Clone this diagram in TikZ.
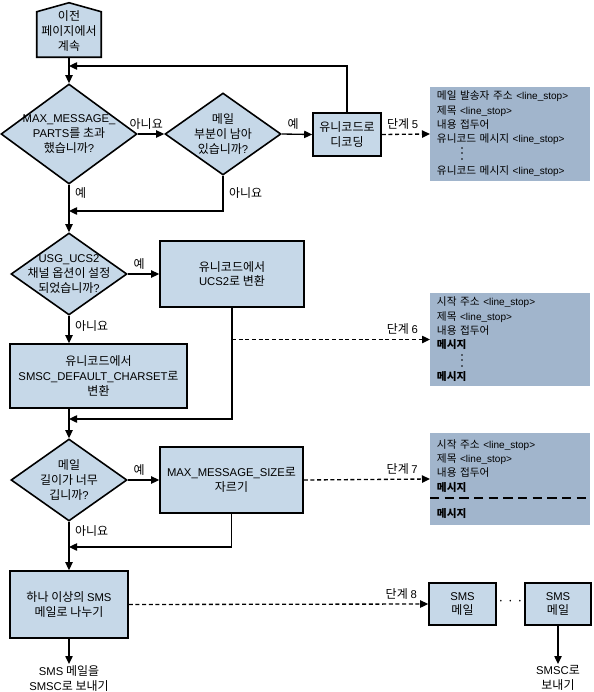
\documentclass[tikz,border=0pt]{standalone}
\usepackage{fontspec}
\setmainfont{Noto Sans CJK KR}
\newfontfamily\enfont{Liberation Sans}[Scale=0.94]
\newcommand\en[1]{{\enfont #1}}
\usetikzlibrary{shapes.geometric,arrows.meta,calc}

\definecolor{boxblue}{RGB}{198,216,232}
\definecolor{noteblue}{RGB}{161,181,204}

\begin{document}
\begin{tikzpicture}[x=0.75pt,y=0.75pt,yscale=-1,xscale=1,
  font=\fontsize{9}{11}\selectfont,
  procbox/.style={draw, line width=1.2pt, fill=boxblue, align=center, inner sep=1pt},
  decision/.style={diamond, draw, line width=1.2pt, fill=boxblue, inner sep=0pt},
  dtext/.style={align=center, inner sep=0.75pt},
  notebox/.style={fill=noteblue, align=left, anchor=west, inner xsep=5pt, text width=110pt, minimum height=69pt, font=\fontsize{8}{10.8}\selectfont},
  flow/.style={line width=1pt, -{Triangle[length=6pt,width=5.5pt]}},
  stepline/.style={flow, dash pattern=on 3pt off 2pt},
  sepline/.style={line width=1.5pt, dash pattern=on 7pt off 4pt},
  lbl/.style={inner sep=1pt}
]
\useasboundingbox (0,0) rectangle (593,692);

%Shape: start (house)
\node[minimum width=48pt, minimum height=40.5pt, inner sep=0pt] (start) at (69,30) {};
\draw[line width=1.2pt, fill=boxblue] (start.south west) -- ($(start.north west)+(0,9)$) -- (start.north) -- ($(start.north east)+(0,9)$) -- (start.south east) -- cycle;
\node[dtext] (starttext) at ($(start)+(0,1)$) {이전\\페이지에서\\계속};

%Shape: decisions
\node[decision, minimum width=102pt, minimum height=75pt] (d1) at (69,134) {};
\node[dtext] (d1t) at (d1) {\en{MAX\_MESSAGE\_}\\\en{PARTS}를 초과\\했습니까\en{?}};
\node[decision, minimum width=87pt, minimum height=61.5pt] (d2) at (223,134) {};
\node[dtext] (d2t) at (d2) {메일\\부분이 남아\\있습니까\en{?}};
\node[decision, minimum width=87pt, minimum height=61.5pt] (d3) at (69,274) {};
\node[dtext] (d3t) at (d3) {\en{USG\_UCS2}\\채널 옵션이 설정\\되었습니까\en{?}};
\node[decision, minimum width=87pt, minimum height=61.5pt] (d4) at (69,480) {};
\node[dtext] (d4t) at (d4) {메일\\길이가 너무\\깁니까\en{?}};

%Shape: process boxes
\node[procbox, minimum width=51pt, minimum height=32.25pt] (decode) at (347,134.5) {유니코드로\\디코딩};
\node[procbox, minimum width=108pt, minimum height=49.5pt] (ucs2) at (232,274) {유니코드에서\\\en{UCS2}로 변환};
\node[procbox, minimum width=132.75pt, minimum height=48pt] (charset) at (98.5,376) {유니코드에서\\\en{SMSC\_DEFAULT\_CHARSET}로\\변환};
\node[procbox, minimum width=107.25pt, minimum height=49.5pt] (trunc) at (231.5,480) {\en{MAX\_MESSAGE\_SIZE}로\\자르기};
\node[procbox, minimum width=88.5pt, minimum height=50.25pt] (split) at (69,604.5) {하나 이상의 \en{SMS}\\메일로 나누기};
\node[procbox, minimum width=50.25pt, minimum height=31.5pt] (sms1) at (462.5,604) {\en{SMS}\\메일};
\node[procbox, minimum width=49.5pt, minimum height=31.5pt] (sms2) at (558,604) {\en{SMS}\\메일};
\node[inner sep=0pt] (dots) at (510.5,603) {· · ·};

%Shape: message layouts
\node[notebox] (note5) at (430,134) {메일 발송자 주소 \en{<line\_stop>}\\제목 \en{<line\_stop>}\\내용 접두어\\유니코드 메시지 \en{<line\_stop>}\\[13.2pt]유니코드 메시지 \en{<line\_stop>}};
\node[notebox] (note6) at (430,339.5) {시작 주소 \en{<line\_stop>}\\제목 \en{<line\_stop>}\\내용 접두어\\\textbf{메시지}\\[13.2pt]\textbf{메시지}};
\node[notebox] (note7) at (430,479) {시작 주소 \en{<line\_stop>}\\제목 \en{<line\_stop>}\\내용 접두어\\\textbf{메시지}\\[9pt]\textbf{메시지}};
\draw[sepline] (note7.west |- 0,498) -- (note7.east |- 0,498);
% vertical dots
\foreach \dy in {148,153,159} \fill (462,\dy) circle (0.6pt);
\foreach \dy in {355,360,366} \fill (462,\dy) circle (0.6pt);

% Text Node
\node[align=center, anchor=north, inner sep=1pt] (send1) at (69,664) {\en{SMS} 메일을\\\en{SMSC}로 보내기};
\node[align=center, anchor=north, inner sep=1pt] (send2) at (558,664) {\en{SMSC}로\\보내기};

%Joints
\coordinate (j1) at (69,66);
\coordinate (j2) at (69,211);
\coordinate (j3) at (69,419);
\coordinate (j4) at (69,547);

%Connectors
\draw[flow] (start.south) -- (d1.north);
\draw[flow] (decode.north) |- (j1);
\draw[flow] (d1.east) -- node[lbl, above=2pt, pos=0.32] (l1) {아니요} (d2.west);
\draw[flow] (d2.east) -- node[lbl, above=2pt, pos=0.37] (l2) {예} (decode.west);
\draw[stepline] (decode.east) -- node[lbl, above=2pt, pos=0.43] (s5) {단계 \en{5}} (note5.west);
\draw[flow] (d1.south) -- node[lbl, right=3pt, pos=0.18] (l3) {예} (d3.north);
\draw[flow] (d2.south) |- node[lbl, right=3pt, pos=0.25] (l4) {아니요} (j2);
\draw[flow] (d3.east) -- node[lbl, above=2pt, pos=0.36] (l5) {예} (ucs2.west);
\draw[flow] (d3.south) -- node[lbl, right=3pt, pos=0.38] (l6) {아니요} (d3.south |- charset.north);
\draw[flow] (ucs2.south) |- (j3);
\draw[stepline] (ucs2.south |- note6.west) -- node[lbl, above=2pt, pos=0.86] (s6) {단계 \en{6}} (note6.west);
\draw[flow] (d4.north |- charset.south) -- (d4.north);
\draw[flow] (d4.east) -- node[lbl, above=2pt, pos=0.36] (l7) {예} (trunc.west);
\draw[flow] (trunc.south) |- (j4);
\draw[stepline] (trunc.east) -- node[lbl, above=2pt, pos=0.78] (s7) {단계 \en{7}} (note7.west);
\draw[flow] (d4.south) -- node[lbl, right=3pt, pos=0.2] (l8) {아니요} (split.north);
\draw[stepline] (split.east) -- node[lbl, above=2pt, pos=0.91] (s8) {단계 \en{8}} (sms1.west);
\draw[flow] (split.south) -- (send1.north);
\draw[flow] (sms2.south) -- (send2.north);

\end{tikzpicture}
\end{document}
